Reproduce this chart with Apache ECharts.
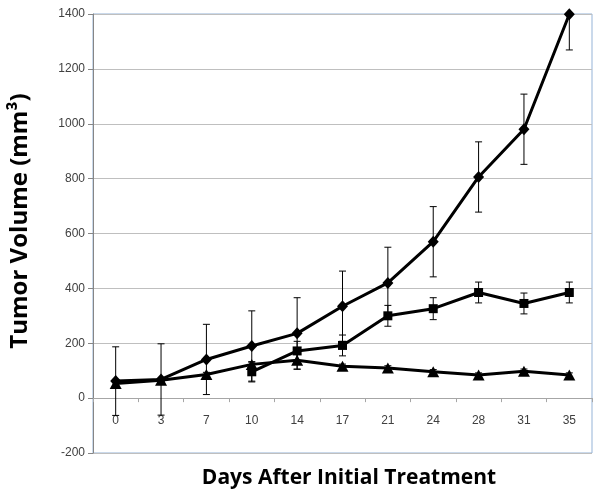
<!DOCTYPE html>
<html>
<head>
<meta charset="utf-8">
<script src="https://cdn.jsdelivr.net/npm/echarts@6/dist/echarts.min.js"></script>
<style>
html,body{margin:0;padding:0;background:#fff;}
#c{width:602px;height:497px;}
</style>
</head>
<body>
<div id="c"></div>
<script>
const days = ['0','3','7','10','14','17','21','24','28','31','35'];
const diamondVals = [62, 68, 141, 190, 236, 335, 420, 570, 806, 980, 1399];
const diamondErr  = [125, 130, 128, 128, 130, 128, 130, 128, 128, 128, 130];
const squareVals  = [null, null, null, 96, 172, 192, 300, 326, 385, 345, 385];
const squareErr   = [null, null, null, 37, 35, 38, 38, 40, 38, 38, 38];
const triangleVals = [53, 65, 86, 123, 138, 116, 110, 96, 84, 98, 84];
const triangleErr  = [6, 6, 8, 8, 33, 8, 8, 8, 8, 8, 8];
const yTicks = [-200, 0, 200, 400, 600, 800, 1000, 1200, 1400];
const xTitle = 'Days After Initial Treatment';
const yTitle = 'Tumor Volume (mm³)';

const W = 602, H = 497;
const G = {left:93, right:10, top:14, bottom:44};
const yMin = yTicks[0], yMax = yTicks[yTicks.length-1];
const plotH = H - G.top - G.bottom;
// move the category axis up to the value 0 line
const zeroOffset = -plotH * (0 - yMin) / (yMax - yMin);

function errData(vals, errs){
  const out = [];
  vals.forEach((v,i)=>{ if(v!=null && errs[i]!=null) out.push([i, v-errs[i], v+errs[i]]); });
  return out;
}
function errSeries(vals, errs){
  return {
    type:'custom', data: errData(vals, errs), z: 1, clip: true, silent:true,
    encode:{x:0, y:[1,2]},
    renderItem(params, api){
      const i = api.value(0);
      const lo = api.coord([i, api.value(1)]);
      const hi = api.coord([i, api.value(2)]);
      const w = 3.5;
      const st = {stroke:'#000', lineWidth:1};
      return {type:'group', children:[
        {type:'line', shape:{x1:lo[0],y1:lo[1],x2:hi[0],y2:hi[1]}, style:st},
        {type:'line', shape:{x1:lo[0]-w,y1:lo[1],x2:lo[0]+w,y2:lo[1]}, style:st},
        {type:'line', shape:{x1:hi[0]-w,y1:hi[1],x2:hi[0]+w,y2:hi[1]}, style:st}
      ]};
    }
  };
}
function lineSeries(vals, symbol, size){
  return {type:'line', data: vals, symbol: symbol, symbolSize: size, z: 3,
    lineStyle:{color:'#000', width:3}, itemStyle:{color:'#000'},
    connectNulls:false, animation:false};
}
const chart = echarts.init(document.getElementById('c'));
chart.setOption({
  animation:false,
  backgroundColor:'#fff',
  grid:{left:G.left, right:G.right, top:G.top, bottom:G.bottom, show:true,
    borderColor:'#95B3D7', borderWidth:1, containLabel:false, outerBoundsMode:'none'},
  xAxis:{type:'category', data: days, boundaryGap:true, offset: zeroOffset,
    axisLine:{onZero:false, lineStyle:{color:'#A6A6A6', width:1}},
    axisTick:{show:true, alignWithLabel:false, inside:false, length:4, lineStyle:{color:'#A6A6A6'}},
    axisLabel:{color:'#404040', fontSize:12, fontFamily:'Liberation Sans', margin:17},
    splitLine:{show:false}
  },
  yAxis:{type:'value', min: yMin, max: yMax, interval:200,
    axisLine:{show:true, lineStyle:{color:'#868686'}},
    axisTick:{show:true, length:5, lineStyle:{color:'#868686'}},
    axisLabel:{color:'#404040', fontSize:12, fontFamily:'Liberation Sans', margin:8,
      formatter: v => String(v)},
    splitLine:{lineStyle:{color:'#BFBFBF', width:1}}
  },
  graphic:[
    {type:'text', x:349, y:478, silent:true,
      style:{text:xTitle, fill:'#000', font:'bold 21px "Open Sans"', align:'center', verticalAlign:'middle'}},
    {type:'text', x:20, y:221, rotation:Math.PI/2, silent:true,
      style:{text:yTitle, fill:'#000', font:'bold 24px "Open Sans"', align:'center', verticalAlign:'middle'}}
  ],
  series:[
    errSeries(diamondVals, diamondErr),
    errSeries(squareVals, squareErr),
    errSeries(triangleVals, triangleErr),
    lineSeries(triangleVals, 'triangle', [12,11]),
    lineSeries(squareVals, 'rect', [9,9]),
    lineSeries(diamondVals, 'diamond', [11,12])
  ]
});
</script>
</body>
</html>
